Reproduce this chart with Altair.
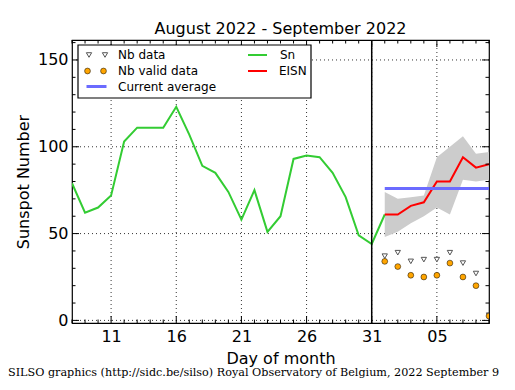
import altair as alt
import pandas as pd

# ---- data ----
sn_days = list(range(8, 33))  # Aug 8 .. Sep 1 (Sep 1 = day 32)
sn_values = [79, 62, 65, 72, 103, 111, 111, 111, 123, 107, 89, 85, 74, 58,
             75, 51, 60, 93, 95, 94, 85, 71, 49, 44, 61]
est_days = list(range(32, 41))  # Sep 1 .. Sep 9
eisn_values = [61, 61, 66, 68, 80, 80, 94, 88, 90]
band_low = [48, 51, 56, 60, 65, 61, 81, 80, 81]
band_high = [74, 70, 71, 72, 94, 100, 106, 96, 97]
nb_data = [37, 39, 34, 35, 35, 39, 33, 27, 3]
nb_valid = [34, 31, 26, 25, 26, 33, 25, 20, 2.5]
current_average = 76
month_end_day = 31
x_major = [11, 16, 21, 26, 31, 36]
x_labels = ["11", "16", "21", "26", "31", "05"]
y_major = [0, 50, 100, 150]
y_minor = [v for v in range(0, 161, 10) if v not in y_major]
x_minor = [d for d in range(8, 41) if d not in x_major]

W, H = 417, 283
FONT = "DejaVu Sans"

label_expr = "".join(f"datum.value == {v} ? '{l}' : " for v, l in zip(x_major, x_labels)) + "''"

xs = alt.Scale(domain=[8, 40], nice=False, zero=False)
ys = alt.Scale(domain=[-1.5, 161.5], nice=False, zero=False)
x_axis = alt.Axis(values=x_major, labelExpr=label_expr, title="Day of month", grid=False,
                  ticks=False, tickSize=0, domain=False, labelFontSize=16, titleFontSize=16,
                  labelFont=FONT, titleFont=FONT, labelColor="black", titleColor="black",
                  titleFontWeight="normal", labelPadding=5, titlePadding=6, labelFlush=False)
y_axis = alt.Axis(values=y_major, title="Sunspot Number", grid=False, ticks=False, tickSize=0,
                  domain=False, labelFontSize=16, titleFontSize=16, labelFont=FONT,
                  titleFont=FONT, labelColor="black", titleColor="black",
                  titleFontWeight="normal", labelPadding=4, titlePadding=6, labelFlush=False)


def X(f):
    return alt.X(f, type="quantitative", scale=xs, axis=x_axis)


def Y(f):
    return alt.Y(f, type="quantitative", scale=ys, axis=y_axis)


sn_df = pd.DataFrame({"day": sn_days, "sn": sn_values})
est_df = pd.DataFrame({"day": est_days, "eisn": eisn_values, "lo": band_low, "hi": band_high,
                       "nb": nb_data, "nbv": nb_valid})
xg_df = pd.DataFrame({"day": x_major})
yg_df = pd.DataFrame({"v": y_major})
xmin_df = pd.DataFrame({"day": x_minor})
ymin_df = pd.DataFrame({"v": y_minor})
avg_df = pd.DataFrame({"d1": [est_days[0]], "d2": [est_days[-1]], "v": [current_average]})
vline_df = pd.DataFrame({"day": [month_end_day]})
one = pd.DataFrame({"a": [0]})

grid_x = alt.Chart(xg_df).mark_rule(color="black", strokeWidth=0.8, strokeDash=[1, 3]).encode(
    x=X("day"), y=alt.value(0), y2=alt.value(H))
grid_y = alt.Chart(yg_df).mark_rule(color="black", strokeWidth=0.8, strokeDash=[1, 3]).encode(
    y=Y("v"), x=alt.value(0), x2=alt.value(W))

band = alt.Chart(est_df).mark_area(color="#cccccc", clip=True).encode(
    x=X("day"), y=Y("lo"), y2="hi")
sn_line = alt.Chart(sn_df).mark_line(color="#33cc33", strokeWidth=2, clip=True).encode(
    x=X("day"), y=Y("sn"))
eisn_line = alt.Chart(est_df).mark_line(color="#ff0000", strokeWidth=2, clip=True).encode(
    x=X("day"), y=Y("eisn"))
avg_line = alt.Chart(avg_df).mark_rule(color="#6b6bff", strokeWidth=3, clip=True).encode(
    x=X("d1"), x2="d2", y=Y("v"))
vline = alt.Chart(vline_df).mark_rule(color="black", strokeWidth=1.5).encode(
    x=X("day"), y=alt.value(0), y2=alt.value(H))
tri = alt.Chart(est_df).mark_point(shape="triangle-down", filled=True, fill="white",
                                   stroke="#555555", strokeWidth=1, size=28, opacity=1,
                                   clip=True).encode(x=X("day"), y=Y("nb"))
circ = alt.Chart(est_df).mark_circle(color="#ffa500", stroke="black", strokeWidth=0.5,
                                     size=34, opacity=1, clip=True).encode(
    x=X("day"), y=Y("nbv"))

ticks = []
for df, ln in ((xg_df, 7), (xmin_df, 3.5)):
    ticks.append(alt.Chart(df).mark_rule(color="black", strokeWidth=1).encode(
        x=X("day"), y=alt.value(H), y2=alt.value(H - ln)))
    ticks.append(alt.Chart(df).mark_rule(color="black", strokeWidth=1).encode(
        x=X("day"), y=alt.value(0), y2=alt.value(ln)))
for df, ln in ((yg_df, 7), (ymin_df, 3.5)):
    ticks.append(alt.Chart(df).mark_rule(color="black", strokeWidth=1).encode(
        y=Y("v"), x=alt.value(0), x2=alt.value(ln)))
    ticks.append(alt.Chart(df).mark_rule(color="black", strokeWidth=1).encode(
        y=Y("v"), x=alt.value(W), x2=alt.value(W - ln)))

# ---- manual legend ----
LF = 12
leg = [
    alt.Chart(one).mark_rect(fill="white", stroke="black", strokeWidth=1.2).encode(
        x=alt.value(6), x2=alt.value(239), y=alt.value(5), y2=alt.value(58)),
]
for lx in (17, 33):
    leg.append(alt.Chart(one).mark_point(shape="triangle-down", filled=True, fill="white",
                                         stroke="#555555", strokeWidth=1, size=28,
                                         opacity=1).encode(x=alt.value(lx), y=alt.value(15)))
    leg.append(alt.Chart(one).mark_circle(color="#ffa500", stroke="black", strokeWidth=0.5,
                                          size=34, opacity=1).encode(
        x=alt.value(lx - 1.5), y=alt.value(31)))
leg.append(alt.Chart(one).mark_rule(color="#6b6bff", strokeWidth=3).encode(
    x=alt.value(14.5), x2=alt.value(34.5), y=alt.value(46.5)))
leg.append(alt.Chart(one).mark_rule(color="#33cc33", strokeWidth=2).encode(
    x=alt.value(176), x2=alt.value(195), y=alt.value(15)))
leg.append(alt.Chart(one).mark_rule(color="#ff0000", strokeWidth=2).encode(
    x=alt.value(176), x2=alt.value(195), y=alt.value(31)))
for tx, ty, txt in ((46, 15, "Nb data"), (46, 31, "Nb valid data"), (46, 46.5, "Current average"),
                    (208, 15, "Sn"), (207, 31, "EISN")):
    leg.append(alt.Chart(one).mark_text(text=txt, align="left", baseline="middle", font=FONT,
                                        fontSize=LF, color="black").encode(
        x=alt.value(tx), y=alt.value(ty)))

footer = alt.Chart(one).mark_text(
    text="SILSO graphics (http://sidc.be/silso) Royal Observatory of Belgium, 2022 September 9",
    align="left", baseline="alphabetic", font="DejaVu Serif", fontSize=11.2, color="black").encode(
    x=alt.value(-64), y=alt.value(336))

chart = alt.layer(grid_x, grid_y, band, sn_line, eisn_line, avg_line, vline, tri, circ,
                  *ticks, *leg, footer).properties(
    width=W, height=H,
    title=alt.Title("August 2022 - September 2022", fontSize=16, fontWeight="normal",
                    font=FONT, color="black", offset=2),
    autosize=alt.AutoSizeParams(type="none"),
    padding={"left": 64, "top": 32, "right": 18, "bottom": 57},
).configure_view(stroke="black", strokeWidth=1.2)

chart.save("out.html", embed_options={"renderer": "svg", "actions": False})
